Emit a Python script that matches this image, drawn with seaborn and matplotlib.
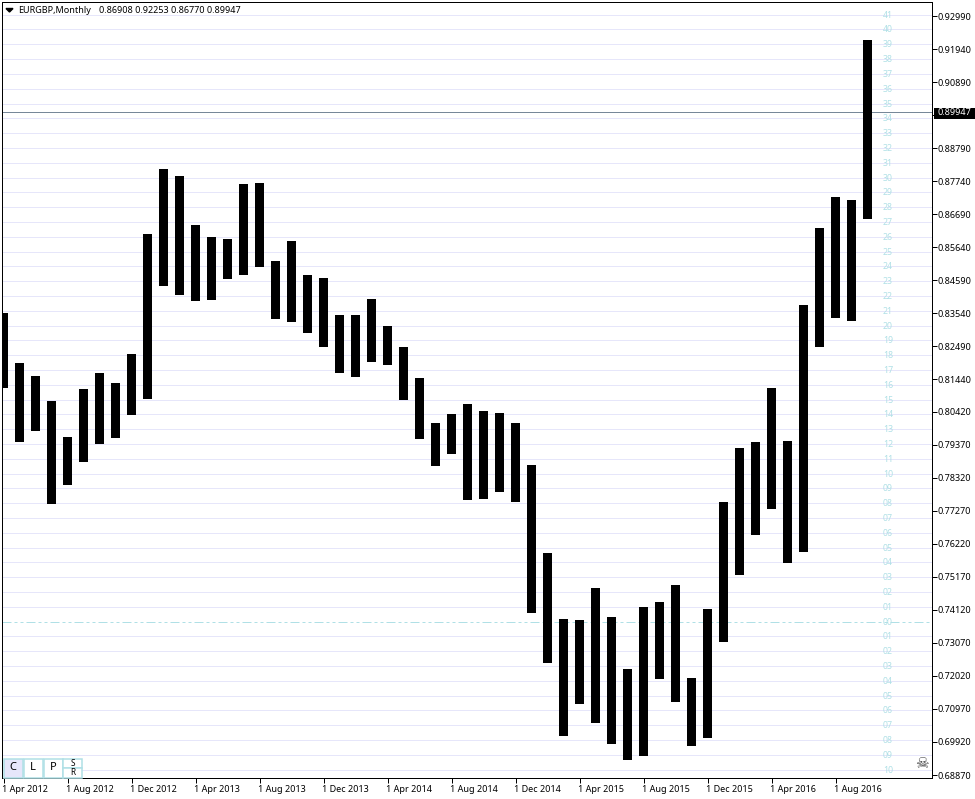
import matplotlib
matplotlib.use("Agg")
import matplotlib.pyplot as plt
import matplotlib.patches as mpatches
from matplotlib.transforms import ScaledTranslation
import pandas as pd
import seaborn as sns

# monthly EURGBP bars, Apr 2012 to Oct 2016
highs = [0.83552, 0.81963, 0.81550, 0.80755, 0.79611, 0.81137, 0.81645, 0.81327, 0.82249, 0.86062,
         0.88128, 0.87905, 0.86348, 0.85967, 0.85903, 0.87651, 0.87683, 0.85204, 0.85840, 0.84759,
         0.84664, 0.83488, 0.83488, 0.83996, 0.83138, 0.82471, 0.81486, 0.80056, 0.80342, 0.80660,
         0.80437, 0.80374, 0.80056, 0.78721, 0.75925, 0.73827, 0.73796, 0.74813, 0.73891, 0.72239,
         0.74209, 0.74368, 0.74908, 0.71953, 0.74145, 0.77545, 0.79261, 0.79452, 0.81169, 0.79484,
         0.83806, 0.86253, 0.87238, 0.87142, 0.92227]
lows = [0.81169, 0.79452, 0.79802, 0.77482, 0.78086, 0.78817, 0.79389, 0.79579, 0.80310, 0.80819,
        0.84410, 0.84124, 0.83933, 0.83965, 0.84632, 0.84759, 0.85013, 0.83361, 0.83265, 0.82916,
        0.82471, 0.81645, 0.81518, 0.81994, 0.81899, 0.80787, 0.79547, 0.78689, 0.79071, 0.77609,
        0.77641, 0.77863, 0.77545, 0.74018, 0.72429, 0.70109, 0.71126, 0.70523, 0.69855, 0.69347,
        0.69474, 0.71921, 0.71190, 0.69792, 0.70046, 0.73097, 0.75226, 0.76497, 0.77323, 0.75607,
        0.75957, 0.82471, 0.83393, 0.83297, 0.86539]
month_idx = list(range(len(highs)))

price_ticks = [0.92990, 0.91940, 0.90890, 0.89840, 0.88790, 0.87740, 0.86690, 0.85640, 0.84590, 0.83540,
               0.82490, 0.81440, 0.80420, 0.79370, 0.78320, 0.77270, 0.76220, 0.75170, 0.74120, 0.73070,
               0.72020, 0.70970, 0.69920, 0.68870]
date_ticks = [0, 4, 8, 12, 16, 20, 24, 28, 32, 36, 40, 44, 48, 52]
date_labels = ["1 Apr 2012", "1 Aug 2012", "1 Dec 2012", "1 Apr 2013", "1 Aug 2013", "1 Dec 2013", "1 Apr 2014",
               "1 Aug 2014", "1 Dec 2014", "1 Apr 2015", "1 Aug 2015", "1 Dec 2015", "1 Apr 2016", "1 Aug 2016"]

# the level lines with their numbers, top to bottom
levels = [0.93006, 0.92561, 0.92084, 0.91608, 0.91131, 0.90654, 0.90178, 0.89733, 0.89256, 0.88779,
          0.88303, 0.87826, 0.87381, 0.86905, 0.86428, 0.85951, 0.85475, 0.85030, 0.84553, 0.84076,
          0.83600, 0.83123, 0.82678, 0.82201, 0.81725, 0.81248, 0.80771, 0.80327, 0.79850, 0.79373,
          0.78897, 0.78420, 0.77975, 0.77498, 0.77022, 0.76545, 0.76068, 0.75623, 0.75147, 0.74670,
          0.74193, 0.73717, 0.73272, 0.72795, 0.72319, 0.71842, 0.71365, 0.70921, 0.70444, 0.69967,
          0.69490, 0.69014]
level_labels = ["41", "40", "39", "38", "37", "36", "35", "34", "33", "32", "31", "30", "29", "28", "27", "26",
                "25", "24", "23", "22", "21", "20", "19", "18", "17", "16", "15", "14", "13", "12", "11", "10",
                "09", "08", "07", "06", "05", "04", "03", "02", "01", "00", "01", "02", "03", "04", "05", "06",
                "07", "08", "09", "10"]
zero_level = 0.73717
price_line = 0.89924
price_text = "0.89947"
header_name = "EURGBP,Monthly"
header_values = "0.86908 0.92253 0.86770 0.89947"

W, H = 975, 799
GRID = "#E6E6FA"
BLUE = "#B0E0E6"
FONT = "Noto Sans"
HALF_PX = 0.00016  # keeps the thin lines on their own pixel row

sns.set_theme(style="white")
plt.rcParams["font.family"] = [FONT, "DejaVu Sans"]


def fx(x):
    return x / W


def fy(y):
    return 1 - y / H


df = pd.DataFrame({"month": month_idx, "range": [h - l for h, l in zip(highs, lows)], "low": lows})

fig = plt.figure(figsize=(W / 100, H / 100), dpi=100, facecolor="white")
ax = fig.add_axes([fx(2), fy(778), 930 / W, 776 / H])

sns.barplot(data=df, x="month", y="range", bottom=df["low"], native_scale=True, width=9 / 16,
            color="black", saturation=1, errorbar=None, linewidth=0, antialiased=False, zorder=3, ax=ax)

ax.set_xlim((2 - 3.5) / 16, (932 - 3.5) / 16)
ax.set_ylim(0.687752, 0.934349)

for v in levels:
    if v != zero_level:
        ax.axhline(v + HALF_PX, color=GRID, lw=0.72, zorder=1)
ax.axhline(zero_level + HALF_PX, color=BLUE, lw=0.72, dashes=(9, 3, 3, 3, 3, 3), zorder=1)
ax.axhline(price_line + HALF_PX, color="#778899", lw=0.72, zorder=2)

# level numbers sit inside the plot, just right of the last bar
for v, t in zip(levels, level_labels):
    ax.text((888 - 3.5) / 16, v, t, color=BLUE, fontsize=6.3, ha="center", va="center", zorder=2)

ax.set_xticks(date_ticks)
ax.set_xticklabels(date_labels, ha="left", fontsize=6.5, color="black")
ax.yaxis.tick_right()
ax.set_yticks(price_ticks)
ax.set_yticklabels([f"{v:.5f}" for v in price_ticks], fontsize=6.5, color="black")
ax.tick_params(axis="x", length=3.6, width=0.72, pad=1.5, bottom=True, color="black")
ax.tick_params(axis="y", length=3.6, width=0.72, pad=0, right=True, color="black")
# date labels start a little left of their tick
shift = ScaledTranslation(-2 / 100, 0, fig.dpi_scale_trans)
for lab in ax.get_xticklabels():
    lab.set_transform(lab.get_transform() + shift)
ax.set_xlabel("")
ax.set_ylabel("")
for s in ax.spines.values():
    s.set_color("black")
    s.set_linewidth(0.72)
    s.set_visible(True)

# header
fig.add_artist(mpatches.Polygon([[fx(6), fy(8.5)], [fx(13), fy(8.5)], [fx(9.5), fy(12)]], closed=True,
                                color="black", transform=fig.transFigure))
fig.text(fx(18), fy(10.5), header_name, fontsize=6.5, color="black", va="center")
fig.text(fx(99), fy(10.5), header_values, fontsize=6.5, color="black", va="center")

# current price tag, covers most of the 0.89840 label
py = (0.934985 - price_line) / 0.00031778
fig.add_artist(mpatches.Rectangle((fx(934), fy(118.5)), 41 / W, 11 / H, color="black", lw=0,
                                  transform=fig.transFigure, zorder=5))
fig.text(fx(938), fy(py + 0.5), price_text, fontsize=6.5, color="white", va="center", zorder=6)

# C L P S/R buttons
buttons = [("C", 3.5, 758.5, 19, 19, GRID, 8), ("L", 23.5, 758.5, 19, 19, "white", 8),
           ("P", 43.5, 758.5, 19, 19, "white", 8), ("S", 63.5, 758.5, 19, 9.5, "white", 6),
           ("R", 63.5, 768, 19, 9.5, "white", 6)]
for t, x, y, w, h, fc, fs in buttons:
    fig.add_artist(mpatches.Rectangle((fx(x), fy(y + h)), w / W, h / H, facecolor=fc, edgecolor=BLUE, lw=1.1,
                                      transform=fig.transFigure, zorder=5))
    fig.text(fx(x + w / 2), fy(y + h / 2), t, fontsize=fs, color="black", ha="center", va="center", zorder=6)

fig.text(fx(921.5), fy(764), "\u2620", fontsize=11, color="#444444", ha="center", va="center",
         family="DejaVu Sans", zorder=6)

fig.savefig("out.png", dpi=100, facecolor="white")
